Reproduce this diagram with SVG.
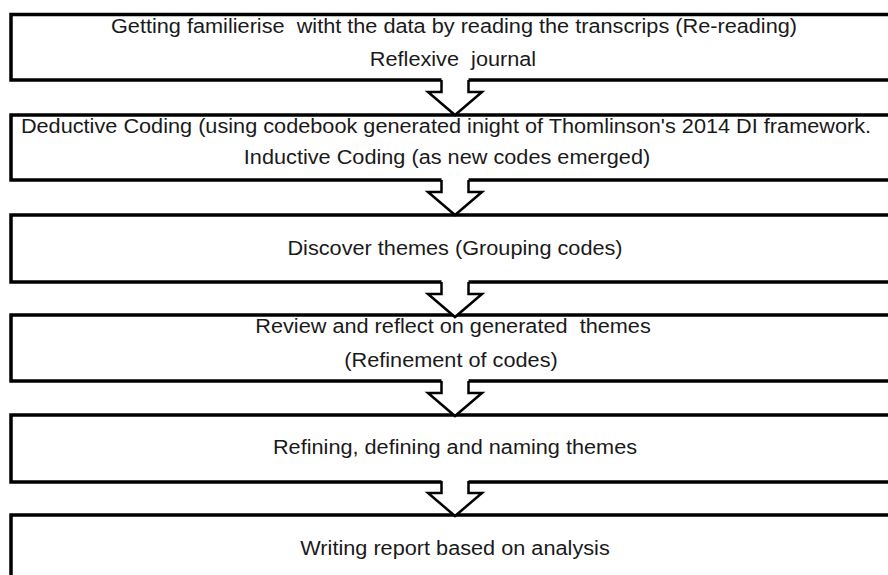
<svg xmlns="http://www.w3.org/2000/svg" width="888" height="575" viewBox="0 0 888 575">
  <style>
    .box { fill: #ffffff; stroke: #000000; stroke-width: 3.5; }
    .lbl { font-family: "Liberation Sans", Arial, sans-serif; font-size: 20px; fill: #1a1a1a; text-anchor: middle; white-space: pre; }
    .arrow-fill { fill: #ffffff; stroke: none; }
    .arrow-line { fill: none; stroke: #000000; stroke-width: 2.5; stroke-linejoin: miter; }
  </style>
  <defs>
    <!-- hollow block arrow, origin at the bottom edge of the upper box -->
    <g id="down-arrow">
      <polygon class="arrow-fill" points="441.5,-2 441.5,12 428,12 455,35 482,12 468.5,12 468.5,-2"/>
      <polyline class="arrow-line" points="441.5,0 441.5,12 428,12 455,35 482,12 468.5,12 468.5,0"/>
    </g>
  </defs>

  <rect width="888" height="575" fill="#ffffff"/>

  <!-- labels are set slightly wide: 20px glyphs stretched 8% horizontally -->
  <g id="step1">
    <rect class="box" x="11" y="14.5" width="900" height="65.5"/>
    <text class="lbl" transform="translate(454 33) scale(1.085 1)">Getting familierise  witht the data by reading the transcrips (Re-reading)</text>
    <text class="lbl" transform="translate(453 66) scale(1.085 1)">Reflexive  journal</text>
  </g>

  <g id="step2">
    <rect class="box" x="11" y="115" width="900" height="65"/>
    <text class="lbl" transform="translate(446 133) scale(1.085 1)">Deductive Coding (using codebook generated inight of Thomlinson's 2014 DI framework.</text>
    <text class="lbl" transform="translate(447 164) scale(1.085 1)">Inductive Coding (as new codes emerged)</text>
  </g>

  <g id="step3">
    <rect class="box" x="11" y="215" width="900" height="67"/>
    <text class="lbl" transform="translate(455 255) scale(1.085 1)">Discover themes (Grouping codes)</text>
  </g>

  <g id="step4">
    <rect class="box" x="11" y="315" width="900" height="66"/>
    <text class="lbl" transform="translate(453 333) scale(1.085 1)">Review and reflect on generated  themes</text>
    <text class="lbl" transform="translate(451 367) scale(1.085 1)">(Refinement of codes)</text>
  </g>

  <g id="step5">
    <rect class="box" x="11" y="415" width="900" height="67"/>
    <text class="lbl" transform="translate(455 454) scale(1.085 1)">Refining, defining and naming themes</text>
  </g>

  <g id="step6">
    <rect class="box" x="11" y="515" width="900" height="67"/>
    <text class="lbl" transform="translate(455 555) scale(1.085 1)">Writing report based on analysis</text>
  </g>

  <g id="connectors">
    <use href="#down-arrow" transform="translate(0,80)"/>
    <use href="#down-arrow" transform="translate(0,180)"/>
    <use href="#down-arrow" transform="translate(0,282)"/>
    <use href="#down-arrow" transform="translate(0,381)"/>
    <use href="#down-arrow" transform="translate(0,481)"/>
  </g>
</svg>
